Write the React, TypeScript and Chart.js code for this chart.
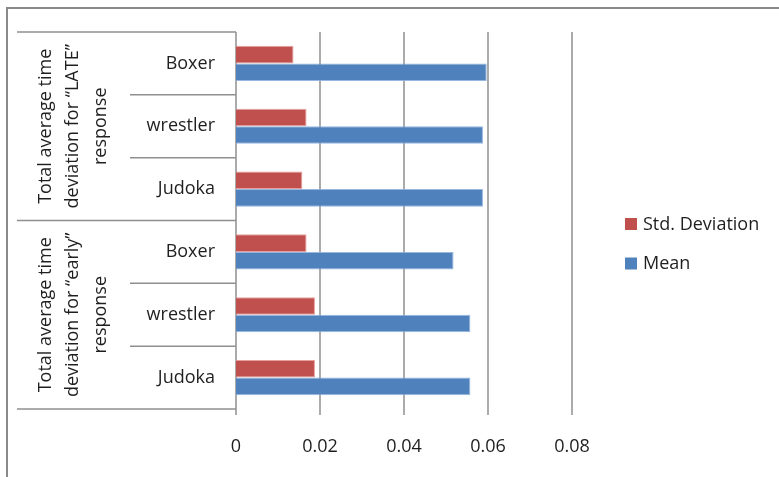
import React, { useEffect, useRef } from 'react';
import { Chart, registerables } from 'chart.js';

Chart.register(...registerables);

// ---- data ----
const categories = ['Boxer', 'wrestler', 'Judoka', 'Boxer', 'wrestler', 'Judoka'];
const groupLabels = [
  ['Total average time', 'deviation for “LATE”', 'response'],
  ['Total average time', 'deviation for “early”', 'response'],
];
const groupSizes = [3, 3];
const stdDeviation = [0.0137, 0.0168, 0.0158, 0.0168, 0.0188, 0.0188];
const meanValues = [0.0597, 0.0588, 0.0588, 0.0518, 0.0558, 0.0558];
const seriesNames = ['Std. Deviation', 'Mean'];
const xMin = 0;
const xMax = 0.08;
const xStep = 0.02;

const FONT = '"Open Sans", "DejaVu Sans", sans-serif';
const FONT_SIZE = 18;
const TEXT_COLOR = '#1f1f1f';
const LINE_COLOR = '#8f8f8f';
const RED = '#C0504D';
const BLUE = '#4F81BD';

const gridPlugin = {
  id: 'customGrid',
  beforeDatasetsDraw(chart: any) {
    const { ctx, chartArea } = chart;
    const x = chart.scales.x;
    ctx.save();
    ctx.strokeStyle = LINE_COLOR;
    ctx.lineWidth = 1.5;
    x.ticks.forEach((t: any) => {
      const px = x.getPixelForValue(t.value);
      ctx.beginPath();
      ctx.moveTo(px, chartArea.top);
      ctx.lineTo(px, chartArea.bottom + 6);
      ctx.stroke();
    });
    ctx.restore();
  },
};

const decorPlugin = {
  id: 'decor',
  afterDraw(chart: any) {
    const { ctx, chartArea } = chart;
    const y = chart.scales.y;
    const n = categories.length;
    ctx.save();

    // outer frame
    ctx.strokeStyle = '#8a8a8a';
    ctx.lineWidth = 2;
    ctx.beginPath();
    ctx.moveTo(7, 477);
    ctx.lineTo(7, 8);
    ctx.lineTo(779, 8);
    ctx.stroke();

    // category separators
    const groupBounds = new Set<number>();
    let acc = 0;
    groupBounds.add(0);
    groupSizes.forEach((s) => { acc += s; groupBounds.add(acc); });
    const boundary = (i: number) => {
      if (i === 0) return chartArea.top;
      if (i === n) return chartArea.bottom;
      return (y.getPixelForValue(i - 1) + y.getPixelForValue(i)) / 2;
    };
    ctx.strokeStyle = LINE_COLOR;
    ctx.lineWidth = 1.5;
    for (let i = 0; i <= n; i++) {
      const yb = boundary(i);
      const x0 = groupBounds.has(i) ? 17 : 130;
      ctx.beginPath();
      ctx.moveTo(x0, yb);
      ctx.lineTo(chartArea.left, yb);
      ctx.stroke();
    }

    // group labels (rotated)
    ctx.fillStyle = TEXT_COLOR;
    ctx.font = `${FONT_SIZE}px ${FONT}`;
    ctx.textAlign = 'center';
    ctx.textBaseline = 'middle';
    const lh = 27.5;
    let start = 0;
    groupSizes.forEach((s, gi) => {
      const top = boundary(start);
      const bottom = boundary(start + s);
      const cy = (top + bottom) / 2;
      const cx = 73;
      const lines = groupLabels[gi];
      ctx.save();
      ctx.translate(cx, cy);
      ctx.rotate(-Math.PI / 2);
      lines.forEach((line, li) => {
        const off = (li - (lines.length - 1) / 2) * lh;
        ctx.fillText(line, 0, off);
      });
      ctx.restore();
      start += s;
    });

    // legend
    const colors = [RED, BLUE];
    const legendX = 625;
    const legendY = [218, 257.5];
    ctx.textAlign = 'left';
    seriesNames.forEach((name, i) => {
      ctx.fillStyle = colors[i];
      ctx.fillRect(legendX, legendY[i], 12, 12);
      ctx.fillStyle = TEXT_COLOR;
      ctx.fillText(name, legendX + 18, legendY[i] + 6.5);
    });

    ctx.restore();
  },
};

export default function App() {
  const ref = useRef<HTMLCanvasElement>(null);

  useEffect(() => {
    if (!ref.current) return;
    const chart = new Chart(ref.current, {
      type: 'bar',
      data: {
        labels: categories,
        datasets: [
          {
            label: seriesNames[0],
            data: stdDeviation,
            backgroundColor: RED,
            borderColor: 'rgba(226,150,148,0.9)',
            borderWidth: 1,
          },
          {
            label: seriesNames[1],
            data: meanValues,
            backgroundColor: BLUE,
            borderColor: 'rgba(140,175,220,0.9)',
            borderWidth: 1,
          },
        ],
      },
      options: {
        indexAxis: 'y',
        responsive: false,
        animation: false,
        layout: { padding: { left: 0, top: 32, right: 207, bottom: 0 } },
        datasets: { bar: { categoryPercentage: 0.56, barPercentage: 1 } },
        plugins: {
          legend: { display: false },
          tooltip: { enabled: false },
        },
        scales: {
          x: {
            type: 'linear',
            min: xMin,
            max: xMax,
            ticks: {
              stepSize: xStep,
              color: TEXT_COLOR,
              font: { family: FONT, size: FONT_SIZE },
              padding: 21,
            },
            grid: {
              display: false,
              drawTicks: true,
              tickLength: 6,
            },
            border: { display: false },
            afterFit: (scale: any) => { scale.height = 68; },
          },
          y: {
            type: 'category',
            ticks: {
              color: TEXT_COLOR,
              font: { family: FONT, size: FONT_SIZE },
              padding: 21,
            },
            grid: { display: false, drawTicks: false },
            border: { display: false },
            afterFit: (scale: any) => { scale.width = 236; },
          },
        },
      },
      plugins: [gridPlugin, decorPlugin],
    } as any);
    return () => chart.destroy();
  }, []);

  return (
    <div style={{ position: 'fixed', left: 0, top: 0, width: 779, height: 477, background: '#fff' }}>
      <canvas ref={ref} width={779} height={477} style={{ display: 'block' }} />
    </div>
  );
}
